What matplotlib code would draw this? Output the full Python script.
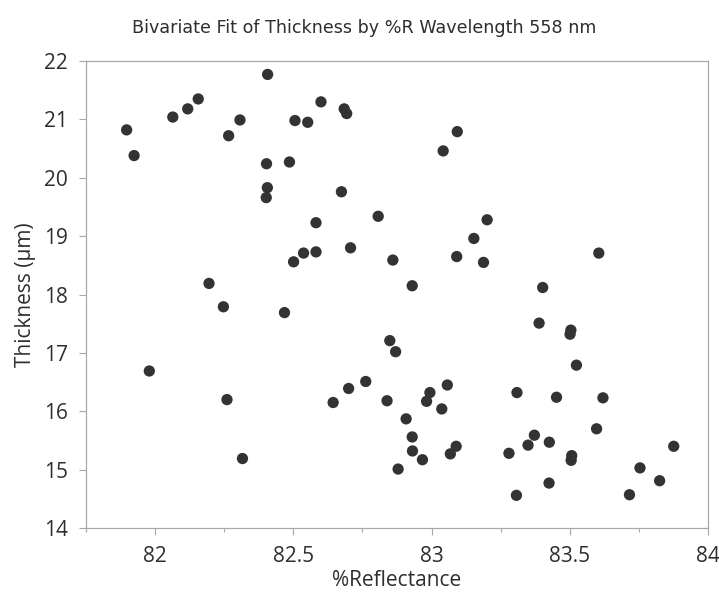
import matplotlib.pyplot as plt
from matplotlib.ticker import MultipleLocator

# %R at 558 nm vs coating thickness
reflectance = [
    81.897, 81.924, 82.064, 82.118, 82.156, 82.266, 82.307, 82.407, 82.403, 82.486,
    82.406, 82.402, 82.506, 82.552, 82.600, 82.684, 82.693, 82.674, 82.582, 82.501,
    82.537, 82.582, 82.707, 82.807, 82.195, 83.093, 83.042, 83.201, 83.153, 82.860,
    83.091, 83.188, 82.930, 83.402, 83.605, 82.247, 82.468, 81.979, 82.260, 82.316,
    82.644, 82.700, 82.762, 82.839, 82.849, 82.870, 83.389, 83.504, 83.501, 83.524,
    82.994, 82.982, 83.057, 83.037, 82.908, 82.930, 82.931, 82.967, 82.879, 83.089,
    83.068, 83.309, 83.452, 83.620, 83.597, 83.372, 83.349, 83.426, 83.280, 83.507,
    83.505, 83.425, 83.307, 83.876, 83.754, 83.825, 83.716,
]
thickness = [
    20.82, 20.38, 21.04, 21.18, 21.35, 20.72, 20.99, 21.77, 20.24, 20.27,
    19.83, 19.66, 20.98, 20.95, 21.30, 21.18, 21.10, 19.76, 19.23, 18.56,
    18.71, 18.73, 18.80, 19.34, 18.19, 20.79, 20.46, 19.28, 18.96, 18.59,
    18.65, 18.55, 18.15, 18.12, 18.71, 17.79, 17.69, 16.69, 16.20, 15.19,
    16.15, 16.39, 16.51, 16.18, 17.21, 17.02, 17.51, 17.39, 17.32, 16.79,
    16.32, 16.17, 16.45, 16.04, 15.87, 15.56, 15.32, 15.17, 15.01, 15.40,
    15.27, 16.32, 16.24, 16.23, 15.70, 15.59, 15.42, 15.47, 15.28, 15.24,
    15.16, 14.77, 14.56, 15.40, 15.03, 14.81, 14.57,
]

plt.rcParams['font.family'] = ['Open Sans', 'DejaVu Sans']

fig = plt.figure(figsize=(7.19, 6.04), dpi=100)
ax = fig.add_axes([0.1196, 0.1258, 0.8651, 0.7732])

ax.scatter(reflectance, thickness, s=66, color='#333333', edgecolors='none', zorder=3)

ax.set_xlim(81.75, 84)
ax.set_ylim(14, 22)
ax.xaxis.set_major_locator(MultipleLocator(0.5))
ax.xaxis.set_minor_locator(MultipleLocator(0.25))
ax.yaxis.set_major_locator(MultipleLocator(1))
ax.set_xticks([82, 82.5, 83, 83.5, 84])
ax.set_xticklabels(['82', '82.5', '83', '83.5', '84'])

for side in ['left', 'bottom', 'top', 'right']:
    ax.spines[side].set_color('#a8a8a8')
    ax.spines[side].set_linewidth(0.9)

ax.tick_params(axis='both', which='major', length=5, width=0.8, color='#a8a8a8',
               labelsize=15, labelcolor='#2e2e2e', pad=8)
ax.tick_params(axis='x', which='minor', length=3, width=0.8, color='#a8a8a8')

ax.set_xlabel('%Reflectance', fontsize=15, color='#2e2e2e', labelpad=2)
ax.set_ylabel('Thickness (µm)', fontsize=15, color='#2e2e2e', labelpad=6)
fig.text(0.5065, 0.953, 'Bivariate Fit of Thickness by %R Wavelength 558 nm',
         ha='center', va='center', fontsize=12.6, color='#2e2e2e', family='DejaVu Sans')

fig.savefig('out.png', dpi=100)
